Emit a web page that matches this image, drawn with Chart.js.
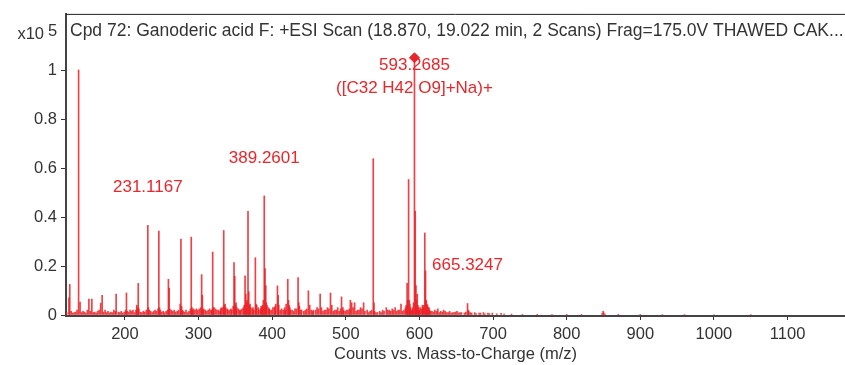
<!DOCTYPE html>
<html>
<head>
<meta charset="utf-8">
<script src="https://cdn.jsdelivr.net/npm/chart.js@4.4.1/dist/chart.umd.min.js"></script>
<style>
  html, body { margin: 0; padding: 0; background: #fff; }
</style>
</head>
<body>
<canvas id="spectrum" width="845" height="365"></canvas>
<script>
// main peaks (m/z, counts x10^5)
const peakMz = [124.0, 125.1, 137.1, 139.1, 151.1, 155.1, 167.1, 169.1, 173.1, 188.1, 199.1, 202.1, 207.0, 211.0,
    216.1, 218.1, 231.1167, 233.1, 246.1, 248.1, 259.1, 260.1, 263.0, 275.1, 276.1, 278.0, 285.0, 290.1, 292.0, 297.0,
    299.0, 304.2, 305.2, 309.0, 317.0, 319.2, 321.0, 325.0, 330.0, 333.0, 334.2, 336.0, 340.0, 345.0, 348.2, 349.2,
    352.0, 357.0, 361.0, 363.2, 364.2, 367.2, 368.2, 371.0, 375.0, 377.2, 379.0, 382.0, 386.0, 389.2601, 390.3, 391.3,
    393.0, 397.0, 401.0, 405.0, 407.2, 408.2, 411.0, 415.0, 419.0, 421.2, 422.2, 425.0, 431.0, 435.2, 436.2, 440.0,
    445.0, 449.2, 451.0, 456.0, 461.0, 465.2, 467.0, 471.0, 475.0, 479.2, 481.0, 485.0, 489.0, 494.2, 496.0, 501.0,
    506.2, 508.0, 512.0, 516.0, 520.0, 524.2, 529.0, 533.0, 537.3, 538.3, 541.0, 546.0, 550.0, 555.0, 559.0, 563.0,
    567.0, 571.0, 575.0, 579.0, 583.3, 585.3, 586.3, 589.0, 591.0, 593.2685, 594.3, 595.3, 597.0, 601.0, 604.0, 607.3,
    608.3, 609.3, 611.0, 613.0, 617.0, 621.0, 625.0, 629.0, 633.0, 637.0, 641.0, 645.0, 651.0, 655.0, 665.3247, 666.3,
    669.0, 675.0, 681.0, 687.0, 693.0, 699.0, 711.0, 849.5, 850.5];
const peakVal = [0.07, 0.125, 1.0, 0.053, 0.065, 0.065, 0.048, 0.08, 0.02, 0.085, 0.012, 0.09, 0.02, 0.02,
    0.04, 0.129, 0.366, 0.02, 0.343, 0.02, 0.146, 0.11, 0.02, 0.045, 0.31, 0.02, 0.01, 0.318, 0.02, 0.025,
    0.02, 0.165, 0.08, 0.02, 0.02, 0.257, 0.03, 0.02, 0.025, 0.03, 0.345, 0.045, 0.02, 0.02, 0.214, 0.158,
    0.03, 0.02, 0.03, 0.16, 0.085, 0.423, 0.095, 0.03, 0.02, 0.234, 0.04, 0.02, 0.03, 0.486, 0.19, 0.12,
    0.04, 0.02, 0.03, 0.045, 0.119, 0.08, 0.02, 0.02, 0.045, 0.146, 0.06, 0.02, 0.025, 0.153, 0.05, 0.02,
    0.02, 0.099, 0.04, 0.02, 0.03, 0.085, 0.03, 0.02, 0.03, 0.09, 0.04, 0.02, 0.03, 0.074, 0.03, 0.02,
    0.06, 0.05, 0.05, 0.02, 0.03, 0.05, 0.02, 0.015, 0.638, 0.05, 0.01, 0.015, 0.02, 0.03, 0.02, 0.025,
    0.03, 0.02, 0.045, 0.02, 0.129, 0.553, 0.06, 0.02, 0.03, 1.05, 0.424, 0.12, 0.085, 0.03, 0.04, 0.335,
    0.18, 0.06, 0.04, 0.03, 0.015, 0.02, 0.025, 0.015, 0.02, 0.01, 0.015, 0.01, 0.015, 0.01, 0.047, 0.02,
    0.01, 0.01, 0.008, 0.01, 0.008, 0.008, 0.007, 0.015, 0.008];

// low-level baseline peaks
const minorMz = [121, 127, 129, 131, 133, 135, 141, 143, 145, 147, 149, 153, 157, 159, 161, 163, 165, 171, 175, 177,
    179, 181, 183, 185, 187, 191, 193, 195, 197, 201, 203, 205, 209, 213, 215, 217, 219, 221, 223, 225, 227, 229, 232,
    235, 237, 239, 241, 243, 245, 247, 250, 252, 254, 256, 258, 261, 265, 267, 269, 271, 273, 277, 279, 281, 283, 287,
    289, 291, 293, 295, 301, 303, 306, 307, 311, 313, 315, 318, 320, 323, 327, 329, 331, 335, 337, 339, 342, 344, 347,
    350, 351, 354, 356, 359, 362, 365, 366, 369, 370, 373, 374, 378, 381, 384, 385, 387, 388, 392, 395, 396, 399, 403,
    404, 409, 413, 417, 418, 423, 424, 427, 429, 433, 437, 439, 443, 447, 453, 455, 459, 463, 469, 473, 477, 483, 487,
    491, 493, 497, 499, 503, 505, 510, 514, 518, 522, 526, 531, 535, 539, 543, 548, 552, 557, 561, 565, 569, 573, 577,
    581, 582, 584, 587, 588, 590, 592, 596, 598, 599, 600, 603, 605, 606, 610, 612, 614, 615, 619, 623, 627, 631, 635,
    639, 643, 647, 649, 653, 657, 661, 663, 667, 671, 677, 683, 689, 695, 705, 715, 725, 740, 760, 780, 800, 820, 848,
    852, 870, 900, 930, 960, 1000, 1050];
const minorVal = [0.01, 0.015, 0.008, 0.01, 0.012, 0.02, 0.01, 0.015, 0.012, 0.008, 0.02, 0.015, 0.01, 0.012, 0.008,
    0.015, 0.02, 0.012, 0.01, 0.015, 0.008, 0.012, 0.01, 0.02, 0.015, 0.012, 0.01, 0.015, 0.008, 0.02, 0.015, 0.012,
    0.015, 0.01, 0.02, 0.03, 0.025, 0.012, 0.01, 0.015, 0.012, 0.02, 0.03, 0.015, 0.01, 0.015, 0.02, 0.015, 0.025,
    0.03, 0.012, 0.015, 0.01, 0.015, 0.02, 0.025, 0.015, 0.02, 0.012, 0.015, 0.02, 0.035, 0.015, 0.012, 0.02, 0.015,
    0.025, 0.03, 0.025, 0.02, 0.025, 0.03, 0.02, 0.025, 0.015, 0.02, 0.025, 0.02, 0.03, 0.025, 0.02, 0.015, 0.03,
    0.04, 0.03, 0.025, 0.02, 0.025, 0.035, 0.04, 0.05, 0.025, 0.02, 0.025, 0.04, 0.05, 0.06, 0.04, 0.045, 0.025, 0.03,
    0.045, 0.03, 0.025, 0.035, 0.04, 0.06, 0.05, 0.03, 0.025, 0.02, 0.03, 0.035, 0.04, 0.025, 0.03, 0.02, 0.04, 0.03,
    0.02, 0.015, 0.025, 0.035, 0.02, 0.015, 0.025, 0.02, 0.015, 0.02, 0.025, 0.015, 0.02, 0.025, 0.015, 0.02, 0.015,
    0.025, 0.02, 0.015, 0.02, 0.025, 0.03, 0.015, 0.02, 0.025, 0.015, 0.01, 0.02, 0.015, 0.01, 0.01, 0.015, 0.02,
    0.015, 0.02, 0.015, 0.02, 0.015, 0.03, 0.04, 0.06, 0.045, 0.03, 0.02, 0.05, 0.06, 0.04, 0.03, 0.02, 0.025, 0.03,
    0.04, 0.045, 0.03, 0.02, 0.015, 0.012, 0.015, 0.01, 0.012, 0.015, 0.01, 0.008, 0.01, 0.012, 0.008, 0.01, 0.008,
    0.012, 0.015, 0.008, 0.006, 0.008, 0.005, 0.006, 0.005, 0.005, 0.004, 0.003, 0.003, 0.003, 0.003, 0.003, 0.006,
    0.004, 0.003, 0.003, 0.002, 0.002, 0.002, 0.002];

const xTicks = [200, 300, 400, 500, 600, 700, 800, 900, 1000, 1100];
const yTicks = [0, 0.2, 0.4, 0.6, 0.8, 1];

const labelMz = [231.1167, 389.2601, 593.2685, 665.3247];
const labelTop = [0.366, 0.486, 1.05, 0.047];
const labelText = [["231.1167"], ["389.2601"], ["593.2685", "([C32 H42 O9]+Na)+"], ["665.3247"]];

const precursorMz = [593.2685];
const precursorVal = [1.05];

const titleText = "Cpd 72: Ganoderic acid F: +ESI Scan (18.870, 19.022 min, 2 Scans) Frag=175.0V THAWED CAK...";
const xTitle = "Counts vs. Mass-to-Charge (m/z)";

const FONT = '"Liberation Sans", Arial, sans-serif';
const RED = "#e8262b";

const sticks = [];
peakMz.forEach((m, i) => sticks.push({ x: m, y: peakVal[i] }));
minorMz.forEach((m, i) => sticks.push({ x: m, y: minorVal[i] }));

const overlay = {
    id: "overlay",
    afterDraw(chart) {
        const { ctx, chartArea: a, scales } = chart;
        ctx.save();
        // frame top line
        ctx.strokeStyle = "#222";
        ctx.lineWidth = 1;
        ctx.beginPath();
        ctx.moveTo(a.left, a.top + 0.5);
        ctx.lineTo(chart.width, a.top + 0.5);
        ctx.stroke();

        ctx.fillStyle = "#333";
        ctx.textBaseline = "alphabetic";
        ctx.textAlign = "left";
        ctx.font = "17.5px " + FONT;
        ctx.fillText(titleText, a.left + 4, 36);

        ctx.font = "16.5px " + FONT;
        ctx.textAlign = "right";
        ctx.fillText("x10", 44, 39);
        ctx.textAlign = "left";
        ctx.fillText("5", 48, 36);

        // peak annotations
        ctx.fillStyle = RED;
        ctx.textAlign = "center";
        ctx.textBaseline = "middle";
        ctx.font = "17px " + FONT;
        labelMz.forEach((m, i) => {
            const px = scales.x.getPixelForValue(m);
            let py = scales.y.getPixelForValue(labelTop[i]) - 38;
            py = Math.max(py, a.top + 51);
            labelText[i].forEach((t, j) => ctx.fillText(t, px, py + j * 23));
        });
        ctx.restore();
    }
};

new Chart(document.getElementById("spectrum"), {
    type: "bar",
    data: {
        datasets: [{
            type: "bar",
            data: sticks,
            backgroundColor: "rgba(236, 30, 36, 0.85)",
            borderWidth: 0,
            barThickness: 1,
            grouped: false,
            order: 2
        }, {
            type: "scatter",
            data: precursorMz.map((m, i) => ({ x: m, y: precursorVal[i] })),
            pointStyle: "rectRot",
            pointRadius: 5,
            backgroundColor: RED,
            borderColor: RED,
            order: 1
        }]
    },
    options: {
        responsive: false,
        animation: false,
        layout: { autoPadding: false, padding: { top: 12, right: 0, left: 0, bottom: 0 } },
        plugins: {
            legend: { display: false },
            tooltip: { enabled: false }
        },
        scales: {
            x: {
                type: "linear",
                min: 120,
                max: 1178,
                offset: false,
                grid: { display: true, offset: false, drawOnChartArea: false, tickLength: 4, color: "#333", tickWidth: 1 },
                border: { color: "#444", width: 2 },
                ticks: {
                    color: "#333", font: { family: FONT, size: 16.5 }, padding: 5, maxRotation: 0,
                    callback: v => String(v)
                },
                afterBuildTicks: s => { s.ticks = xTicks.map(v => ({ value: v })); },
                afterFit: s => { s.height = 49; },
                title: { display: true, text: xTitle, color: "#333", font: { family: FONT, size: 16.5 }, padding: { top: 0, bottom: 1 } }
            },
            y: {
                min: -0.004,
                max: 1.229,
                grid: { display: true, drawOnChartArea: false, tickLength: 5, color: "#333", tickWidth: 1 },
                border: { color: "#444", width: 2 },
                ticks: {
                    color: "#333", font: { family: FONT, size: 16.5 }, padding: 4,
                    callback: v => String(v)
                },
                afterBuildTicks: s => { s.ticks = yTicks.map(v => ({ value: v })); },
                afterFit: s => { s.width = 66; }
            }
        }
    },
    plugins: [overlay]
});
</script>
</body>
</html>
